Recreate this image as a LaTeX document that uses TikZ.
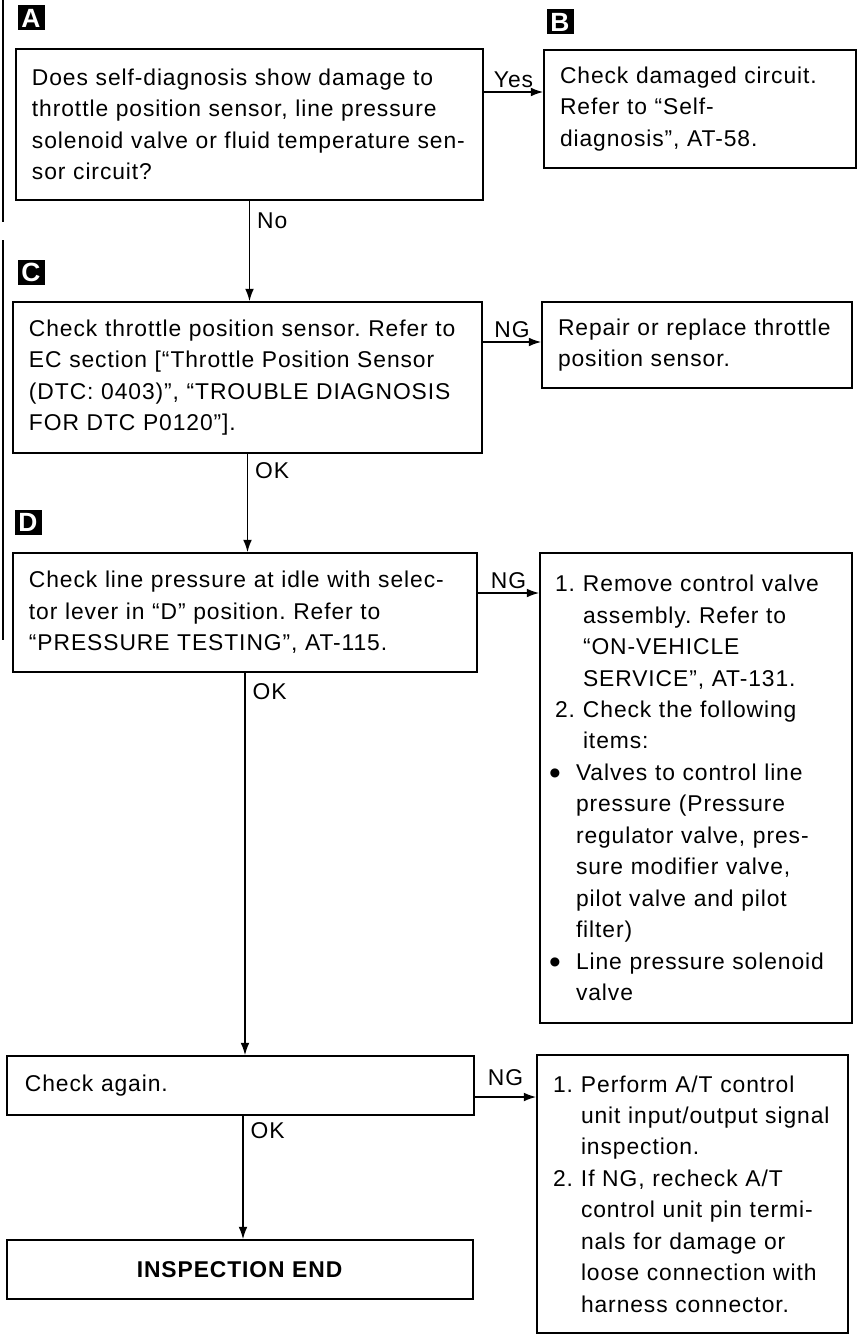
\documentclass[tikz,border=0pt]{standalone}
\usepackage{fontspec}
\setmainfont{Liberation Sans}[LetterSpace=4]
\usepackage{tikz}
\usetikzlibrary{arrows.meta,positioning}
\frenchspacing
\newcommand{\bodyfont}{\fontsize{13}{17.9}\selectfont}
\newcommand{\bigdot}{\raisebox{-2.2pt}{\fontsize{19}{0}\selectfont\textbullet}}
\newcommand{\numln}[2]{\hspace*{0.12cm}\makebox[0.56cm][l]{#1}#2}
\newcommand{\contln}[1]{\hspace*{0.68cm}#1}
\newcommand{\bulln}[1]{\makebox[0.54cm][l]{\bigdot}#1}
\newcommand{\bcontln}[1]{\hspace*{0.54cm}#1}
\tikzset{
    stepbox/.style={
        draw=black,line width=1pt,align=left,
        inner xsep=0.32cm,inner ysep=0pt,font=\bodyfont
    },
    tag/.style={
        fill=black,text=white,minimum width=0.54cm,minimum height=0.5cm,
        inner sep=0pt,font=\bfseries\fontsize{15}{15}\selectfont
    },
    answer/.style={font=\bodyfont,inner sep=2pt},
    flow/.style={
        -{Latex[length=7pt,width=5pt]},line width=0.8pt
    }
}

\begin{document}
\begin{tikzpicture}[x=0.2mm,y=-0.2mm]
\useasboundingbox (0,0) rectangle (858,1334);

% margin bars
\draw[line width=1pt] (3,0) -- (3,222);
\draw[line width=1pt] (3,240) -- (3,640);

\node[tag] (tagA) at (31,18) {A};
\node[tag] (tagB) at (560,22) {B};
\node[tag] (tagC) at (31,272) {C};
\node[tag] (tagD) at (28,522) {D};

\node[stepbox,text width=8.70cm,minimum height=3.02cm] (qA) at (249.5,124.5)
{Does self-diagnosis show damage to\\
throttle position sensor, line pressure\\
solenoid valve or fluid temperature sen-\\
sor circuit?};

\node[stepbox,text width=5.60cm,minimum height=2.36cm] (qB) at (700,109)
{Check damaged circuit.\\
Refer to ``Self-\\
diagnosis'', AT-58.};

\node[stepbox,text width=8.74cm,minimum height=3.02cm] (qC) at (247.5,377.5)
{Check throttle position sensor. Refer to\\
EC section [``Throttle Position Sensor\\
(DTC: 0403)'', ``TROUBLE DIAGNOSIS\\
FOR DTC P0120''].};

\node[stepbox,text width=5.56cm,minimum height=1.72cm] (qC2) at (697,345)
{Repair or replace throttle\\
position sensor.};

\node[stepbox,text width=8.64cm,minimum height=2.38cm] (qD) at (245,612.5)
{Check line pressure at idle with selec-\\
tor lever in ``D'' position. Refer to\\
``PRESSURE TESTING'', AT-115.};

\node[stepbox,inner xsep=0.18cm,text width=5.88cm,minimum height=9.4cm] (qD2) at (696,788)
{\numln{1.}{Remove control valve}\\
\contln{assembly. Refer to}\\
\contln{``ON-VEHICLE}\\
\contln{SERVICE'', AT-131.}\\
\numln{2.}{Check the following}\\
\contln{items:}\\
\bulln{Valves to control line}\\
\bcontln{pressure (Pressure}\\
\bcontln{regulator valve, pres-}\\
\bcontln{sure modifier valve,}\\
\bcontln{pilot valve and pilot}\\
\bcontln{filter)}\\
\bulln{Line pressure solenoid}\\
\bcontln{valve}};

\node[stepbox,inner xsep=0.36cm,text width=8.62cm,minimum height=1.18cm] (qE) at (240.5,1085.5)
{Check again.};

\node[stepbox,inner xsep=0.20cm,text width=5.82cm,minimum height=5.56cm] (qE2) at (692.5,1194)
{\numln{1.}{Perform A/T control}\\
\contln{unit input/output signal}\\
\contln{inspection.}\\
\numln{2.}{If NG, recheck A/T}\\
\contln{control unit pin termi-}\\
\contln{nals for damage or}\\
\contln{loose connection with}\\
\contln{harness connector.}};

\node[stepbox,align=center,text width=8.68cm,minimum height=1.18cm] (qF) at (240,1269.5)
{\textbf{INSPECTION END}};

% connectors
\coordinate (yesA) at ([yshift=0.65cm]qA.east);
\coordinate (ngC) at ([yshift=0.71cm]qC.east);
\coordinate (ngD) at ([yshift=0.39cm]qD.east);
\coordinate (ngE) at ([yshift=-0.23cm]qE.east);

\draw[flow] (yesA) -- node[answer,above] (lblYes) {Yes} (yesA -| qB.west);
\draw[flow] (qA.south) -- node[answer,pos=0.2,right=2pt] (lblNo) {No} (qA.south |- qC.north);
\draw[flow] (ngC) -- node[answer,above] (lblNgC) {NG} (ngC -| qC2.west);
\draw[flow] (qC.south) -- node[answer,pos=0.17,right=2pt] (lblOkC) {OK} (qC.south |- qD.north);
\draw[flow] (ngD) -- node[answer,above] (lblNgD) {NG} (ngD -| qD2.west);
\draw[flow] (qD.south) -- node[answer,pos=0.05,right=2pt] (lblOkD) {OK} (qD.south |- qE.north);
\draw[flow] (ngE) -- node[answer,above=4pt] (lblNgE) {NG} (ngE -| qE2.west);
\draw[flow] ([xshift=0.05cm]qE.south) -- node[answer,pos=0.12,right=2pt] (lblOkE) {OK} ([xshift=0.05cm]qE.south |- qF.north);

\end{tikzpicture}
\end{document}
